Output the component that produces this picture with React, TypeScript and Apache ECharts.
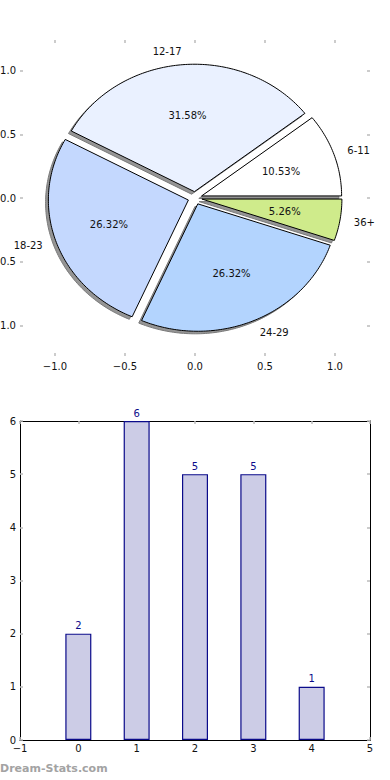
import React, { useEffect, useRef } from 'react';
import * as echarts from 'echarts';

// ---- data ----
const ageGroups = ['6-11', '12-17', '18-23', '24-29', '36+'];
const counts = [2, 6, 5, 5, 1];
const sliceColors = ['#ffffff', '#eaf1ff', '#c4d8fe', '#b3d4fe', '#cfeb8b'];
const pieTicks = [-1, -0.5, 0, 0.5, 1];
const barPositions = [0, 1, 2, 3, 4];
const barCounts = [2, 6, 5, 5, 1];

const EXPLODE = 0.05;
const LABEL_DIST = 1.1;
const PCT_DIST = 0.6;
const SHADOW_OFF = -0.02;
const FONT = 'DejaVu Sans';

const total = counts.reduce((a, b) => a + b, 0);

function sliceAngles(i: number) {
  let start = 0;
  for (let k = 0; k < i; k++) start += (counts[k] / total) * 360;
  const end = start + (counts[i] / total) * 360;
  return [start, end];
}

function wedgePoints(api: any, i: number, dx: number, dy: number) {
  const [start, end] = sliceAngles(i);
  const mid = ((start + end) / 2) * Math.PI / 180;
  const cx = EXPLODE * Math.cos(mid) + dx;
  const cy = EXPLODE * Math.sin(mid) + dy;
  const pts: number[][] = [api.coord([cx, cy])];
  const n = Math.max(8, Math.ceil(end - start));
  for (let j = 0; j <= n; j++) {
    const a = (start + ((end - start) * j) / n) * Math.PI / 180;
    pts.push(api.coord([cx + Math.cos(a), cy + Math.sin(a)]));
  }
  return pts;
}

const fmtTick = (v: number) => v.toFixed(1).replace('-', '\u2212');

const tickStyle = { inside: true, length: 3, lineStyle: { color: '#bbbbbb', width: 1.5 } };

export default function App() {
  const ref = useRef<HTMLDivElement>(null);
  useEffect(() => {
    if (!ref.current) return;
    const chart = echarts.init(ref.current, null, { renderer: 'svg' });
    const pieData = counts.map((v, i) => ({ value: [0, 0, i] }));
    chart.setOption({
      animation: false,
      textStyle: { fontFamily: FONT },
      grid: [
        { left: 20, top: 40, width: 350, height: 316, containLabel: false, outerBoundsMode: 'none' },
        { left: 20, top: 421, width: 350, height: 319, containLabel: false, outerBoundsMode: 'none' },
      ],
      xAxis: [
        {
          gridIndex: 0, type: 'value', position: 'bottom', min: -1.25, max: 1.25,
          axisLine: { show: false, onZero: false },
          axisTick: { ...tickStyle, customValues: pieTicks },
          axisLabel: { customValues: pieTicks, formatter: fmtTick, fontSize: 10, color: '#111', margin: 5, fontFamily: FONT },
          splitLine: { show: false },
        },
        {
          gridIndex: 0, type: 'value', position: 'top', min: -1.25, max: 1.25,
          axisLine: { show: false, onZero: false },
          axisTick: { ...tickStyle, customValues: pieTicks },
          axisLabel: { show: false },
          splitLine: { show: false },
        },
        {
          gridIndex: 1, type: 'value', position: 'bottom', min: -1, max: 5, interval: 1,
          axisLine: { show: true, onZero: false, lineStyle: { color: '#000', width: 1 } },
          axisTick: tickStyle,
          axisLabel: { formatter: (v: number) => String(v).replace('-', '\u2212'), fontSize: 10, color: '#111', margin: 3, fontFamily: FONT, showMinLabel: true, showMaxLabel: true },
          splitLine: { show: false },
        },
        {
          gridIndex: 1, type: 'value', position: 'top', min: -1, max: 5, interval: 1,
          axisLine: { show: true, onZero: false, lineStyle: { color: '#000', width: 1 } },
          axisTick: tickStyle,
          axisLabel: { show: false },
          splitLine: { show: false },
        },
      ],
      yAxis: [
        {
          gridIndex: 0, type: 'value', position: 'left', min: -1.24, max: 1.24,
          axisLine: { show: false, onZero: false },
          axisTick: { ...tickStyle, customValues: pieTicks },
          axisLabel: { customValues: pieTicks, formatter: fmtTick, fontSize: 10, color: '#111', margin: 4, fontFamily: FONT },
          splitLine: { show: false },
        },
        {
          gridIndex: 0, type: 'value', position: 'right', min: -1.24, max: 1.24,
          axisLine: { show: false, onZero: false },
          axisTick: { ...tickStyle, customValues: pieTicks },
          axisLabel: { show: false },
          splitLine: { show: false },
        },
        {
          gridIndex: 1, type: 'value', position: 'left', min: 0, max: 6, interval: 1,
          axisLine: { show: true, onZero: false, lineStyle: { color: '#000', width: 1 } },
          axisTick: tickStyle,
          axisLabel: { fontSize: 10, color: '#111', margin: 4, fontFamily: FONT, showMinLabel: true, showMaxLabel: true },
          splitLine: { show: false },
        },
        {
          gridIndex: 1, type: 'value', position: 'right', min: 0, max: 6, interval: 1,
          axisLine: { show: true, onZero: false, lineStyle: { color: '#000', width: 1 } },
          axisTick: tickStyle,
          axisLabel: { show: false },
          splitLine: { show: false },
        },
      ],
      series: [
        {
          type: 'custom', coordinateSystem: 'cartesian2d', xAxisIndex: 0, yAxisIndex: 0,
          z: 1, silent: true, clip: false,
          data: pieData,
          renderItem: (params: any, api: any) => ({
            type: 'polygon',
            shape: { points: wedgePoints(api, params.dataIndex, SHADOW_OFF, SHADOW_OFF) },
            style: { fill: '#959595', stroke: '#7a7a7a', lineWidth: 1 },
          }),
        },
        {
          type: 'custom', coordinateSystem: 'cartesian2d', xAxisIndex: 0, yAxisIndex: 0,
          z: 2, silent: true, clip: false,
          data: pieData,
          renderItem: (params: any, api: any) => {
            const i = params.dataIndex;
            const [start, end] = sliceAngles(i);
            const mid = ((start + end) / 2) * Math.PI / 180;
            const cx = EXPLODE * Math.cos(mid);
            const cy = EXPLODE * Math.sin(mid);
            const lp = api.coord([cx + LABEL_DIST * Math.cos(mid), cy + LABEL_DIST * Math.sin(mid)]);
            const pp = api.coord([cx + PCT_DIST * Math.cos(mid), cy + PCT_DIST * Math.sin(mid)]);
            return {
              type: 'group',
              children: [
                {
                  type: 'polygon',
                  shape: { points: wedgePoints(api, i, 0, 0) },
                  style: { fill: sliceColors[i], stroke: '#000', lineWidth: 1 },
                },
                {
                  type: 'text', x: pp[0], y: pp[1],
                  style: {
                    text: ((counts[i] / total) * 100).toFixed(2) + '%',
                    fill: '#111', fontSize: 10, fontFamily: FONT, align: 'center', verticalAlign: 'middle',
                  },
                },
                {
                  type: 'text', x: lp[0], y: lp[1],
                  style: {
                    text: ageGroups[i],
                    fill: '#111', fontSize: 10, fontFamily: FONT,
                    align: Math.cos(mid) > 0 ? 'left' : 'right', verticalAlign: 'middle',
                  },
                },
              ],
            };
          },
        },
        {
          type: 'bar', xAxisIndex: 2, yAxisIndex: 2,
          data: barPositions.map((x, i) => [x, barCounts[i]]),
          barWidth: 26,
          itemStyle: { color: '#cccce6', borderColor: '#0b0b8a', borderWidth: 1.2 },
          label: { show: true, position: 'top', distance: 3, color: '#0b0b8a', fontSize: 10, fontFamily: FONT,
            formatter: (p: any) => String(p.value[1]) },
        },
      ],
      graphic: [
        {
          type: 'text', left: 0, top: 763,
          style: { text: 'Dream-Stats.com', fill: '#a3a3a3', fontSize: 11, fontWeight: 'bold', fontFamily: FONT },
        },
      ],
    });
    return () => chart.dispose();
  }, []);
  return (
    <div style={{ position: 'absolute', left: 0, top: 0, width: 390, height: 780 }}>
      <div ref={ref} style={{ width: 390, height: 780 }} />
    </div>
  );
}
